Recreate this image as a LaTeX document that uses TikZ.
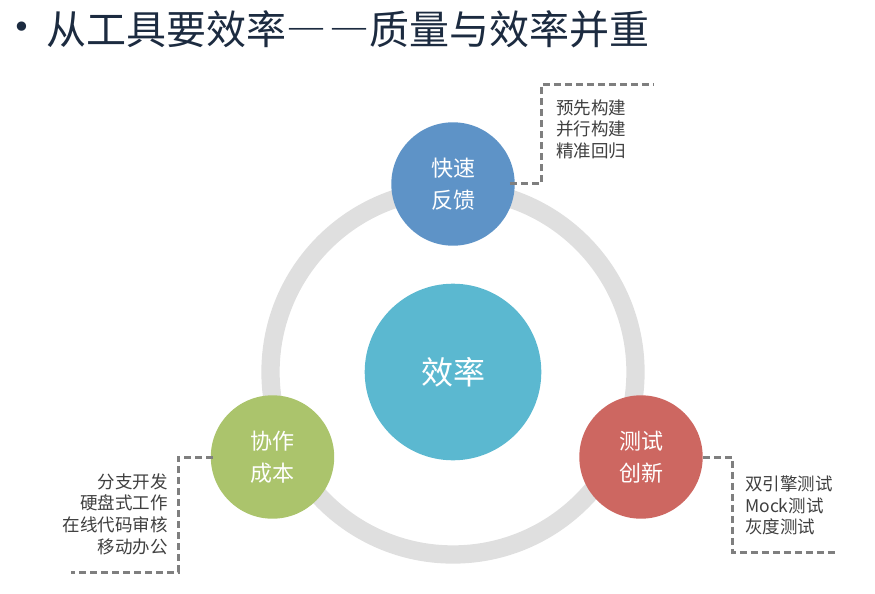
\documentclass[tikz,border=0pt]{standalone}
\usepackage{fontspec}
\setmainfont{Noto Sans CJK SC}
\newfontfamily\bulletfont{DejaVu Sans}
\definecolor{ringgray}{HTML}{DFDFDF}
\definecolor{cblue}{HTML}{5E93C7}
\definecolor{ccyan}{HTML}{5BB8D0}
\definecolor{cgreen}{HTML}{ABC46C}
\definecolor{cred}{HTML}{CD6761}
\definecolor{dashgray}{HTML}{7F7F7F}
\definecolor{titlecol}{HTML}{1C2B40}
\definecolor{sidetext}{HTML}{3F3F3F}
\begin{document}
\begin{tikzpicture}[x=1bp,y=-1bp,
  bubble/.style={circle, inner sep=0pt, minimum size=123.4bp, text=white, align=center,
    font=\fontsize{22bp}{32bp}\selectfont},
  hub/.style={circle, inner sep=0pt, minimum size=176.6bp, fill=ccyan, text=white,
    font=\fontsize{32bp}{38bp}\selectfont},
  sidenote/.style={inner sep=0pt, text=sidetext, font=\fontsize{17.5bp}{21.6bp}\selectfont},
  conn/.style={draw=dashgray, line width=3bp, dash pattern=on 7bp off 4bp},
  ring/.style={draw=ringgray, line width=18.3bp}
]
\useasboundingbox (0,0) rectangle (875,594);
% title
\node[inner sep=0pt, text=titlecol, font=\bulletfont\fontsize{32bp}{36bp}\selectfont] (bul) at (22,30) {•};
\node[inner sep=0pt, anchor=west, text=titlecol, font=\fontsize{40bp}{48bp}\selectfont] (title) at (46,29) {从工具要效率{\addfontfeatures{RawFeature=+fwid}—\kern3bp—}质量与效率并重};
% ring
\draw[ring] (453,372) circle (182.5);
% circles
\node[hub] (hub) at (453,372) {效率};
\node[bubble, fill=cblue] (fb) at (453,184) {快速\\反馈};
\node[bubble, fill=cgreen] (cb) at (272.5,457) {协作\\成本};
\node[bubble, fill=cred] (ti) at (641,457) {测试\\创新};
% connector coordinates
\coordinate (tB) at (541,85);
\coordinate (tC) at (653,85);
\coordinate (lB) at (178,572);
\coordinate (lC) at (71,572);
\coordinate (rB) at (732,552);
\coordinate (rC) at (838,552);
\draw[conn] ([xshift=-5bp]fb.east) -| (tB) -- (tC);
\draw[conn] ([xshift=2bp]cb.west) -| (lB) -- (lC);
\draw[conn] (ti.east) -| (rB) -- (rC);
% side notes
\node[sidenote, anchor=west, align=left] (tnote) at (556,129) {预先构建\\并行构建\\精准回归};
\node[sidenote, anchor=east, align=right] (lnote) at (168,514) {分支开发\\硬盘式工作\\在线代码审核\\移动办公};
\node[sidenote, anchor=west, align=left] (rnote) at (745,505.5) {双引擎测试\\Mock测试\\灰度测试};
\end{tikzpicture}
\end{document}
